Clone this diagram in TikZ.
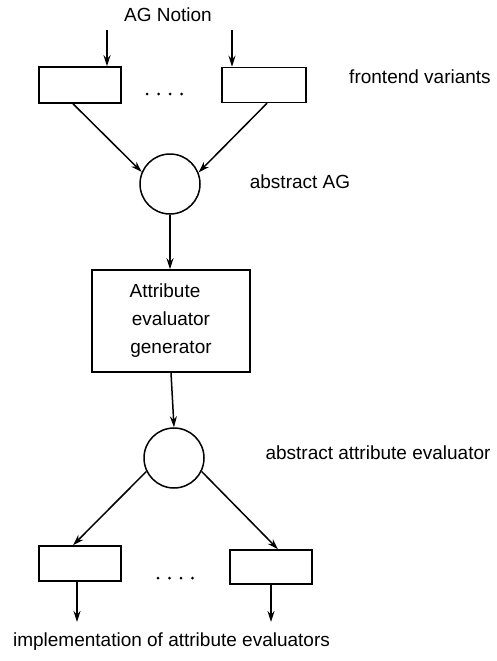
\documentclass[tikz,border=0pt]{standalone}
\usepackage{fontspec}
\setmainfont{Liberation Sans}
\usetikzlibrary{arrows.meta,calc}
\tikzset{
  box/.style={draw, line width=1.5pt, rectangle, inner sep=0pt},
  circ/.style={draw, line width=1.5pt, circle, minimum size=60pt, inner sep=0pt},
  lbl/.style={inner sep=0pt, font=\fontsize{19}{22}\selectfont},
  arr/.style={line width=1.5pt, -{Stealth[length=11pt,width=7pt]}},
  dotc/.style={fill=black}
}
\begin{document}
\begin{tikzpicture}[x=1pt,y=-1pt]
\useasboundingbox (0,0) rectangle (496,661);
% labels
\node[lbl] (notion) at (168,15) {AG Notion};
\node[lbl] (front) at (420,77) {frontend variants};
\node[lbl] (absag) at (300,182) {abstract AG};
\node[lbl] (absev) at (378,453) {abstract attribute evaluator};
\node[lbl] (impl) at (171.5,642) {implementation of attribute evaluators};
% top boxes
\node[box, minimum width=82pt, minimum height=36pt] (tl) at (80,85) {};
\node[box, minimum width=84pt, minimum height=35pt] (tr) at (264,85) {};
\coordinate (tlin) at (107,30);
\coordinate (trin) at (232,30);
\draw[arr] (tlin) -- (tlin |- tl.north);
\draw[arr] (trin) -- (trin |- tr.north);
\foreach \x in {147,158.5,170,181.5} \fill[dotc] (\x,94) circle (1.5pt);
% first circle
\node[circ] (c1) at (170,184) {};
\draw[arr] ([xshift=-7pt]tl.south) -- (c1.157);
\draw[arr] ([xshift=3pt]tr.south) -- (c1.22);
% generator
\node[box, minimum width=158pt, minimum height=102pt, align=center, font=\fontsize{19}{28}\selectfont] (gen) at (171,321) {\hspace*{-12pt}Attribute\\evaluator\\generator};
\draw[arr] (c1.south) -- (c1.south |- gen.north);
% second circle
\node[circ] (c2) at (174,458) {};
\draw[arr] (gen.south) -- (c2.north);
% bottom boxes
\node[box, minimum width=82pt, minimum height=35pt] (bl) at (80,563.5) {};
\node[box, minimum width=82pt, minimum height=34pt] (br) at (271,567) {};
\draw[arr] (c2.206) -- ([xshift=-7pt]bl.north);
\draw[arr] (c2.334) -- ([xshift=7pt]br.north);
\foreach \x in {158,169.5,181,192.5} \fill[dotc] (\x,578) circle (1.5pt);
\coordinate (blout) at (77,622);
\coordinate (brout) at (271,622);
\draw[arr] (blout |- bl.south) -- (blout);
\draw[arr] (brout |- br.south) -- (brout);
\end{tikzpicture}
\end{document}
